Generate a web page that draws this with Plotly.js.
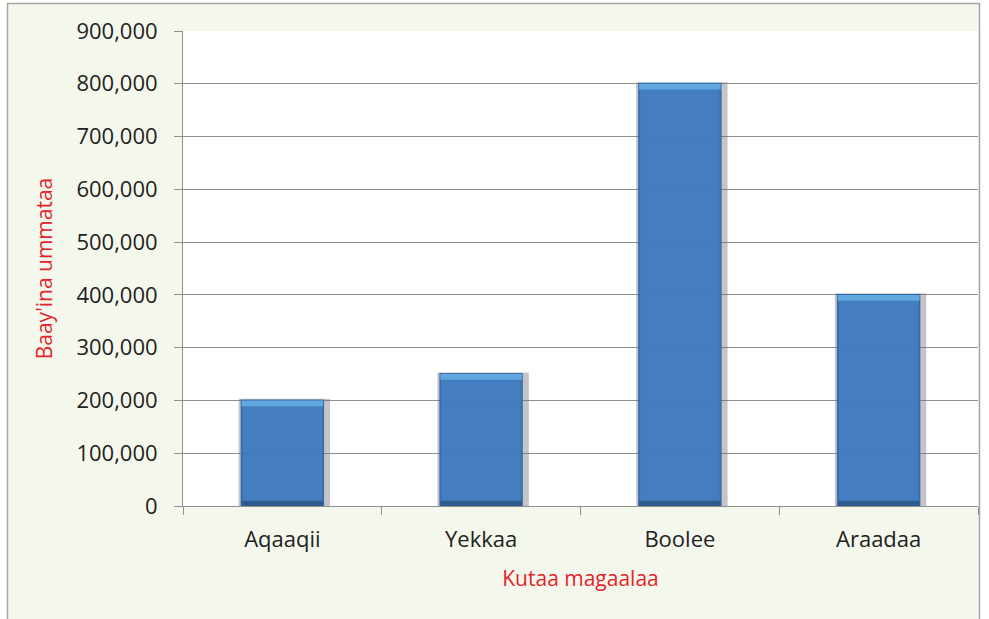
<!DOCTYPE html>
<html>
<head>
<meta charset="utf-8">
<script src="https://cdn.plot.ly/plotly-3.0.1.min.js"></script>
<style>html,body{margin:0;padding:0;background:#fff;}#chart{width:989px;height:619px;}</style>
</head>
<body>
<div id="chart"></div>
<script>
// Data
const categories = ["Aqaaqii", "Yekkaa", "Boolee", "Araadaa"];
const population = [200000, 250000, 800000, 400000];
const tickValues = [0, 100000, 200000, 300000, 400000, 500000, 600000, 700000, 800000, 900000];
const tickLabels = ["0", "100,000", "200,000", "300,000", "400,000", "500,000", "600,000", "700,000", "800,000", "900,000"];
const yTitle = "Baay'ina ummataa";
const xTitle = "Kutaa magaalaa";

const W = 989, H = 619;
const mL = 183, mR = 11, mT = 31, mB = 113;
const pw = W - mL - mR, ph = H - mT - mB;
const px = v => (v - mL) / pw;
const py = v => (H - mB - v) / ph;

const barW = 0.41;
const stripTop = 11000;
const stripBottom = 10000;
const FONT = 'Open Sans, Liberation Sans, Arial, sans-serif';

const traces = [
  { // shadow
    type: 'bar', x: categories, y: population.map(v => v + 3000), width: 0.46, offset: -0.22,
    marker: { color: 'rgba(110,110,120,0.40)', line: { width: 0 } },
    hoverinfo: 'skip', showlegend: false
  },
  { // main body
    type: 'bar', x: categories, y: population, width: barW,
    marker: { color: '#3b79c0', opacity: 0.93, line: { color: '#2f69aa', width: 2 } },
    showlegend: false
  },
  { // bottom dark strip
    type: 'bar', x: categories, y: population.map(() => stripBottom), base: 0, width: barW,
    marker: { color: '#2e5b8e', line: { width: 0 } },
    hoverinfo: 'skip', showlegend: false
  },
  { // top light strip
    type: 'bar', x: categories, y: population.map(() => stripTop), base: population.map(v => v - stripTop), width: barW,
    marker: { color: '#62a8e0', line: { width: 0 } },
    hoverinfo: 'skip', showlegend: false
  }
];

const layout = {
  width: W, height: H,
  margin: { l: mL, r: mR, t: mT, b: mB, pad: 0 },
  paper_bgcolor: '#f4f7eb',
  plot_bgcolor: '#ffffff',
  barmode: 'overlay',
  showlegend: false,
  font: { family: FONT, color: '#222', size: 22 },
  xaxis: {
    type: 'category',
    range: [-0.5, 3.5],
    tickson: 'boundaries',
    ticks: 'outside', ticklen: 8, tickcolor: '#909090', tickwidth: 1,
    ticklabelstandoff: 14,
    showline: true, linecolor: '#909090', linewidth: 1,
    showgrid: false,
    tickfont: { family: FONT, size: 22, color: '#222' },
    title: { text: xTitle, font: { family: FONT, size: 21, color: '#e3242b' }, standoff: 18 }
  },
  yaxis: {
    range: [0, 900000],
    tickvals: tickValues, ticktext: tickLabels,
    ticks: 'outside', ticklen: 8, tickcolor: '#909090', tickwidth: 1,
    ticklabelstandoff: 12,
    showline: true, linecolor: '#909090', linewidth: 1,
    showgrid: true, gridcolor: '#8f8f8f', gridwidth: 1,
    zeroline: false,
    tickfont: { family: FONT, size: 22, color: '#222' },
    title: { text: yTitle, font: { family: FONT, size: 21, color: '#e3242b' }, standoff: 18 }
  },
  shapes: [
    { type: 'rect', xref: 'paper', yref: 'paper', layer: 'below',
      x0: px(0), x1: px(7), y0: py(H + 5), y1: py(-5), fillcolor: '#ffffff', line: { width: 0 } },
    { type: 'rect', xref: 'paper', yref: 'paper', layer: 'below',
      x0: px(0), x1: px(W), y0: py(3), y1: py(-5), fillcolor: '#ffffff', line: { width: 0 } },
    { type: 'rect', xref: 'paper', yref: 'paper', layer: 'below',
      x0: px(980), x1: px(W + 5), y0: py(H + 5), y1: py(-5), fillcolor: '#ffffff', line: { width: 0 } },
    { type: 'rect', xref: 'paper', yref: 'paper', layer: 'below',
      x0: px(7.5), x1: px(979.5), y0: py(H + 10), y1: py(3.5), fillcolor: 'rgba(0,0,0,0)',
      line: { color: '#a6a6a6', width: 1.5 } }
  ]
};

Plotly.newPlot('chart', traces, layout, { displayModeBar: false, staticPlot: true });
</script>
</body>
</html>
